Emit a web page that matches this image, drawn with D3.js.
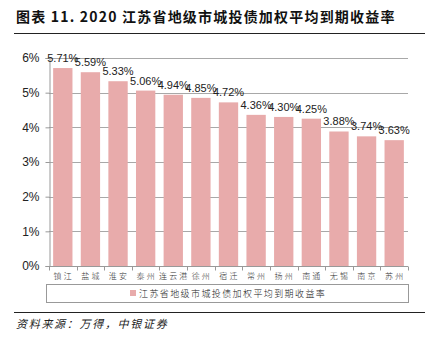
<!DOCTYPE html>
<html>
<head>
<meta charset="utf-8">
<script src="https://cdn.jsdelivr.net/npm/d3@7"></script>
<style>
  html, body { margin: 0; padding: 0; background: #fff; }
  svg { display: block; }
</style>
</head>
<body>
<svg id="chart" width="430" height="343"></svg>
<script>
// 2020 江苏省各地级市城投债加权平均到期收益率 (%)
const cities = ["镇江", "盐城", "淮安", "泰州", "连云港", "徐州", "宿迁", "常州", "扬州", "南通", "无锡", "南京", "苏州"];
const yields = [5.71, 5.59, 5.33, 5.06, 4.94, 4.85, 4.72, 4.36, 4.30, 4.25, 3.88, 3.74, 3.63];
const yTicks = [0, 1, 2, 3, 4, 5, 6];
const seriesName = "江苏省地级市城投债加权平均到期收益率";
const titleText = "图表 11. 2020 江苏省地级市城投债加权平均到期收益率";
const sourceText = "资料来源：万得，中银证券";

const svg = d3.select("#chart");
const cjk = "'Noto Sans CJK SC', 'Noto Sans', sans-serif";
const latin = "'Liberation Sans Narrow', 'Liberation Sans', Arial, sans-serif";
const barColor = "#E8ABAB";

const plot = { left: 49, right: 408, top: 58, bottom: 266 };

const x = d3.scaleBand().domain(cities).range([plot.left, plot.right]).paddingInner(0.3).paddingOuter(0.15);
const y = d3.scaleLinear().domain([0, 6]).range([plot.bottom, plot.top]);

// title and rules
svg.append("text")
  .attr("x", 16).attr("y", 22)
  .attr("font-family", cjk).attr("font-weight", "bold")
  .attr("font-size", 14).attr("letter-spacing", 1.2)
  .attr("fill", "#111")
  .text(titleText);
svg.append("line").attr("x1", 14).attr("x2", 425).attr("y1", 33.5).attr("y2", 33.5)
  .attr("stroke", "#222").attr("stroke-width", 1.2);
svg.append("line").attr("x1", 14).attr("x2", 425).attr("y1", 312.5).attr("y2", 312.5)
  .attr("stroke", "#222").attr("stroke-width", 1.2);

// gridlines
svg.append("g").selectAll("line").data(yTicks.filter(d => d > 0)).join("line")
  .attr("x1", plot.left).attr("x2", plot.right)
  .attr("y1", d => Math.round(y(d)) + 0.5).attr("y2", d => Math.round(y(d)) + 0.5)
  .attr("stroke", "#A8A8A8").attr("stroke-width", 1);

// y axis
const yAxis = svg.append("g").attr("transform", `translate(${plot.left + 0.5},0)`)
  .call(d3.axisLeft(y).tickValues(yTicks).tickFormat(d => d + "%").tickSize(4).tickPadding(6));
yAxis.select(".domain").attr("stroke", "#999");
yAxis.selectAll(".tick line").attr("stroke", "#999");
yAxis.selectAll("text").attr("font-family", latin).attr("font-size", 12).attr("fill", "#222");

// bars
svg.append("g").selectAll("rect").data(cities).join("rect")
  .attr("x", d => x(d))
  .attr("width", x.bandwidth())
  .attr("y", (d, i) => y(yields[i]))
  .attr("height", (d, i) => y(0) - y(yields[i]))
  .attr("fill", barColor);

// value labels
svg.append("g").selectAll("text").data(cities).join("text")
  .attr("x", d => x(d) + x.bandwidth() / 2)
  .attr("y", (d, i) => y(yields[i]) - 6)
  .attr("text-anchor", "middle")
  .attr("font-family", latin).attr("font-size", 11).attr("fill", "#222")
  .text((d, i) => yields[i].toFixed(2) + "%");

// x axis with tick marks between categories
const xg = svg.append("g").attr("transform", `translate(0,${plot.bottom + 0.5})`);
xg.append("line").attr("x1", plot.left).attr("x2", plot.right).attr("stroke", "#999");
const edges = d3.range(cities.length + 1).map(i => plot.left + i * (plot.right - plot.left) / cities.length);
xg.selectAll("line.tk").data(edges).join("line").attr("class", "tk")
  .attr("x1", d => Math.round(d) + 0.5).attr("x2", d => Math.round(d) + 0.5)
  .attr("y1", 0).attr("y2", 4).attr("stroke", "#999");
xg.selectAll("text").data(cities).join("text")
  .attr("x", d => x(d) + x.bandwidth() / 2 + 1)
  .attr("y", 12)
  .attr("text-anchor", "middle")
  .attr("font-family", cjk).attr("font-size", 8).attr("font-weight", 300)
  .attr("letter-spacing", 2.2)
  .attr("fill", "#333")
  .text(d => d);

// legend
const lg = svg.append("g");
lg.append("rect").attr("x", 46.5).attr("y", 284.5).attr("width", 362).attr("height", 18)
  .attr("fill", "none").attr("stroke", "#999");
lg.append("rect").attr("x", 130).attr("y", 290).attr("width", 6).attr("height", 6).attr("fill", barColor);
lg.append("text").attr("x", 139).attr("y", 297)
  .attr("font-family", cjk).attr("font-size", 9).attr("font-weight", 300)
  .attr("letter-spacing", 1.4)
  .attr("fill", "#222").text(seriesName);

// source
svg.append("text").attr("x", 16).attr("y", 328)
  .attr("font-family", cjk).attr("font-style", "italic")
  .attr("font-size", 11).attr("letter-spacing", 1.7).attr("fill", "#222")
  .text(sourceText);
</script>
</body>
</html>
